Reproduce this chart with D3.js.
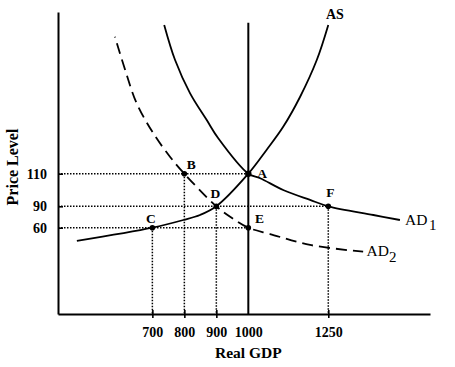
<!DOCTYPE html>
<html>
<head>
<meta charset="utf-8">
<script src="https://cdn.jsdelivr.net/npm/d3@7"></script>
<style>
  html, body { margin: 0; padding: 0; background: #fff; }
  svg { display: block; }
  text { font-family: "Liberation Serif", "Times New Roman", serif; fill: #000; }
</style>
</head>
<body>
<div id="chart"></div>
<script>
// ---------- data ----------
const gdpTicks = [700, 800, 900, 1000, 1250];
const priceTicks = [60, 90, 110];

const asGdp   = [464, 700, 797, 849, 900, 1000, 1057, 1109, 1162, 1214, 1250];
const asPrice = [50.8, 60, 70.8, 77.8, 90, 110, 124.7, 139, 157.6, 180.3, 202];

const ad1Gdp   = [737, 771, 818, 870, 906, 1000, 1037, 1109, 1193, 1250, 1391, 1474];
const ad1Price = [202, 180.3, 159.7, 143.2, 131.9, 110, 107.2, 100, 93.9, 90, 77.8, 70.8];

const ad2Gdp   = [583, 615, 651, 703, 755, 800, 900, 949, 1000, 1068, 1193, 1359];
const ad2Price = [194.7, 174.1, 153.5, 135, 120.5, 110, 90, 73.6, 60, 55.6, 48, 43.3];

const pointNames = ["A", "B", "C", "D", "E", "F"];
const pointGdp   = [1000, 800, 700, 900, 1000, 1250];
const pointPrice = [110, 110, 60, 90, 60, 90];

const potentialGdp = 1000;
const potentialTop = 203.4;

// ---------- layout ----------
const W = 455, H = 367;
const svg = d3.select("#chart").append("svg")
  .attr("width", W).attr("height", H);
svg.append("rect").attr("width", W).attr("height", H).attr("fill", "#fff");

const x = d3.scaleLinear().domain([405, 1568]).range([58, 430]);
// the original diagram is not drawn to scale: piecewise-linear price axis
const y = d3.scaleLinear().domain([0, 60, 90, 110, 210]).range([314, 227.7, 206.3, 173.7, 12]);

const line = d3.line().x(d => x(d[0])).y(d => y(d[1])).curve(d3.curveCatmullRom.alpha(0.5));

// dotted guides
const guides = svg.append("g").attr("stroke", "#000").attr("stroke-width", 1.5)
  .attr("stroke-dasharray", "1.5,1.5").attr("fill", "none");
priceTicks.forEach(p => {
  const maxG = d3.max(pointGdp.filter((g, i) => pointPrice[i] === p));
  guides.append("line").attr("x1", x(405)).attr("x2", x(maxG)).attr("y1", y(p)).attr("y2", y(p));
});
pointGdp.forEach((g, i) => {
  if (g === potentialGdp) return;
  guides.append("line").attr("x1", x(g)).attr("x2", x(g)).attr("y1", y(pointPrice[i])).attr("y2", y(0));
});

// potential GDP vertical
svg.append("line").attr("x1", x(potentialGdp)).attr("x2", x(potentialGdp))
  .attr("y1", y(potentialTop)).attr("y2", y(0)).attr("stroke", "#000").attr("stroke-width", 2);

// curves
svg.append("path").datum(d3.zip(asGdp, asPrice)).attr("d", line)
  .attr("fill", "none").attr("stroke", "#000").attr("stroke-width", 1.8);
svg.append("path").datum(d3.zip(ad1Gdp, ad1Price)).attr("d", line)
  .attr("fill", "none").attr("stroke", "#000").attr("stroke-width", 1.8);
const ad2Path = svg.append("path").datum(d3.zip(ad2Gdp, ad2Price)).attr("d", line)
  .attr("fill", "none").attr("stroke", "#000").attr("stroke-width", 1.8)
  .attr("stroke-dasharray", "11,6");
const L = ad2Path.node().getTotalLength();
ad2Path.attr("stroke-dashoffset", ((10.5 - L) % 17 + 17) % 17);

// axes
const yAxis = svg.append("g").attr("transform", `translate(${x(405)},0)`)
  .call(d3.axisLeft(y).tickValues(priceTicks).tickFormat(d3.format("d"))
    .tickSizeInner(6).tickSizeOuter(0).tickPadding(5));
yAxis.select(".domain").attr("stroke-width", 2);
yAxis.selectAll(".tick line").attr("x2", 5).attr("stroke-width", 1.6);
yAxis.selectAll(".tick text").attr("font-size", 14).attr("font-weight", "bold")
  .attr("font-family", "Liberation Serif");

const xAxis = svg.append("g").attr("transform", `translate(0,${y(0)})`)
  .call(d3.axisBottom(x).tickValues(gdpTicks).tickFormat(d3.format("d"))
    .tickSizeInner(4).tickSizeOuter(0).tickPadding(0));
xAxis.select(".domain").attr("stroke-width", 2);
xAxis.selectAll(".tick line").attr("y1", -4).attr("stroke-width", 1.6)
  .attr("opacity", d => d === potentialGdp ? 0 : 1);
xAxis.selectAll(".tick text").attr("font-size", 14).attr("font-weight", "bold")
  .attr("font-family", "Liberation Serif").attr("y", 23).attr("dy", 0);

// points
const labelOffset = {A: [9, 4, "start"], B: [2.5, -4.5, "start"], C: [-1.5, -5, "middle"],
  D: [-1, -8.6, "middle"], E: [6.7, -5, "start"], F: [2, -9, "middle"]};
pointNames.forEach((n, i) => {
  const px = x(pointGdp[i]), py = y(pointPrice[i]);
  svg.append("circle").attr("cx", px).attr("cy", py).attr("r", n === "A" ? 3.2 : 2.8).attr("fill", "#000");
  const o = labelOffset[n];
  svg.append("text").attr("x", px + o[0]).attr("y", py + o[1]).attr("text-anchor", o[2])
    .attr("font-size", 13.5).attr("font-weight", "bold").text(n);
});

// curve labels
svg.append("text").attr("x", 326).attr("y", 19.3).attr("font-size", 14).attr("font-weight", "bold").text("AS");
const ad1 = svg.append("text").attr("x", 405).attr("y", 225).attr("font-size", 15.5);
ad1.append("tspan").text("AD");
ad1.append("tspan").attr("dx", 1.5).attr("dy", 5).attr("font-size", 15).text("1");
const ad2 = svg.append("text").attr("x", 366.5).attr("y", 256).attr("font-size", 15.5);
ad2.append("tspan").text("AD");
ad2.append("tspan").attr("dy", 5.5).attr("font-size", 15).text("2");

// axis titles
svg.append("text").attr("x", x(1000)).attr("y", 358).attr("text-anchor", "middle")
  .attr("font-size", 15.5).attr("font-weight", "bold").text("Real GDP");
svg.append("text").attr("transform", "translate(18,167) rotate(-90)").attr("text-anchor", "middle")
  .attr("font-size", 16).attr("font-weight", "bold").text("Price Level");
</script>
</body>
</html>
